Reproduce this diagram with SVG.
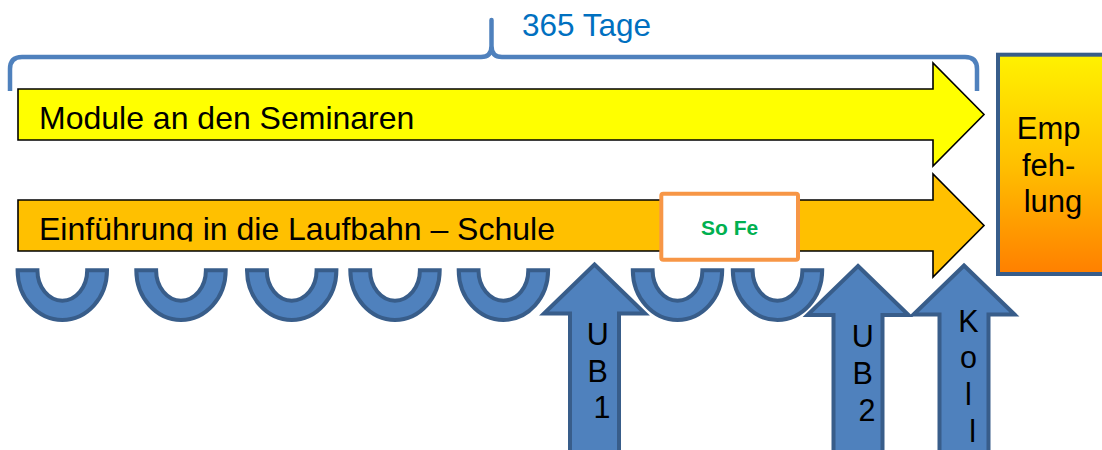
<svg xmlns="http://www.w3.org/2000/svg" width="1102" height="450" viewBox="0 0 1102 450">
  <style>
    .txt { font-family: "Liberation Sans", Arial, sans-serif; fill: #000; }
    .big { font-size: 32px; }
    .letter { font-size: 30.5px; text-anchor: middle; }
    .flow { stroke: #000; stroke-width: 1.6; stroke-linejoin: miter; }
    .blue { fill: #4F81BD; stroke: #385D8A; stroke-width: 4; stroke-linejoin: miter; }
  </style>
  <defs>
    <linearGradient id="empGrad" x1="0" y1="0" x2="0" y2="1">
      <stop offset="0" stop-color="#FFF200"/>
      <stop offset="0.5" stop-color="#FFC000"/>
      <stop offset="1" stop-color="#FF7F00"/>
    </linearGradient>
    <clipPath id="schoolClip">
      <rect x="18" y="200" width="900" height="41.5"/>
    </clipPath>
    <!-- half ring, flat top at y=0 -->
    <path id="halfRing" d="M-44.7,0 A44.7,49.7 0 0 0 44.7,0 L24.9,0 A24.9,30.4 0 0 1 -24.9,0 Z"/>
    <!-- upward block arrow, tip at 0,0 -->
    <path id="upArrow" d="M0,0 L50.5,49 L24.5,49 L24.5,210 L-24.5,210 L-24.5,49 L-50.5,49 Z"/>
  </defs>

  <!-- brace spanning the year -->
  <g id="brace">
    <path d="M10,91 V69 Q10,57 22,57 H481 Q491.5,57 491.5,46 V20 V46 Q491.5,57 502,57 H965 Q977,57 977,69 V91"
          fill="none" stroke="#4F81BD" stroke-width="4.5" stroke-linejoin="round"/>
    <text class="txt" x="522" y="36" font-size="31.5" style="fill:#0070C0">365 Tage</text>
  </g>

  <!-- seminar modules -->
  <g id="module">
    <path class="flow" fill="#FFFF00" d="M18,89 H933 V63 L984,114.5 L933,166 V140 H18 Z"/>
    <text class="txt big" x="39" y="129">Module an den Seminaren</text>
  </g>

  <!-- introduction at school -->
  <g id="schule">
    <path class="flow" fill="#FFC000" d="M18,200 H933 V174 L984,225.5 L933,277 V251 H18 Z"/>
    <text class="txt big" x="39" y="240" clip-path="url(#schoolClip)">Einführung in die Laufbahn – Schule</text>
  </g>

  <!-- holidays -->
  <g id="sofe">
    <rect x="661.3" y="193.7" width="136.7" height="66" rx="2" fill="#FFFFFF" stroke="#F79646" stroke-width="4"/>
    <text x="729.6" y="235" text-anchor="middle" font-family="'Liberation Sans', Arial, sans-serif" font-size="21" font-weight="bold" fill="#00B050">So Fe</text>
  </g>

  <!-- recommendation -->
  <g id="empfehlung">
    <rect x="998" y="54.7" width="110" height="219.3" fill="url(#empGrad)" stroke="#385D8A" stroke-width="4"/>
    <text class="txt" font-size="31" text-anchor="middle">
      <tspan x="1053" y="139">Emp</tspan>
      <tspan x="1053" y="175.5">feh-</tspan>
      <tspan x="1053" y="212">lung</tspan>
    </text>
  </g>

  <!-- visits and colloquium -->
  <g id="ub1">
    <use href="#upArrow" class="blue" x="594.5" y="264.5"/>
    <text class="txt letter">
      <tspan x="602" y="345">U</tspan>
      <tspan x="602" y="381.7">B</tspan>
      <tspan x="602" y="418.3">1</tspan>
    </text>
  </g>
  <g id="ub2">
    <use href="#upArrow" class="blue" x="858" y="266"/>
    <text class="txt letter">
      <tspan x="867" y="346.7">U</tspan>
      <tspan x="867" y="384">B</tspan>
      <tspan x="867" y="421">2</tspan>
    </text>
  </g>
  <g id="koll">
    <use href="#upArrow" class="blue" x="964" y="265.5"/>
    <text class="txt letter">
      <tspan x="972.7" y="331.7">K</tspan>
      <tspan x="972.7" y="368.3">o</tspan>
      <tspan x="972.7" y="405">l</tspan>
      <tspan x="972.7" y="441.7">l</tspan>
    </text>
  </g>

  <!-- seminar days -->
  <g id="rings">
    <use href="#halfRing" class="blue" x="62.3" y="270.3"/>
    <use href="#halfRing" class="blue" x="181" y="270.3"/>
    <use href="#halfRing" class="blue" x="291.7" y="270.3"/>
    <use href="#halfRing" class="blue" x="395" y="270.3"/>
    <use href="#halfRing" class="blue" x="503.4" y="270.3"/>
    <use href="#halfRing" class="blue" x="677.5" y="270.3"/>
    <use href="#halfRing" class="blue" x="777.5" y="270.3"/>
  </g>
</svg>
